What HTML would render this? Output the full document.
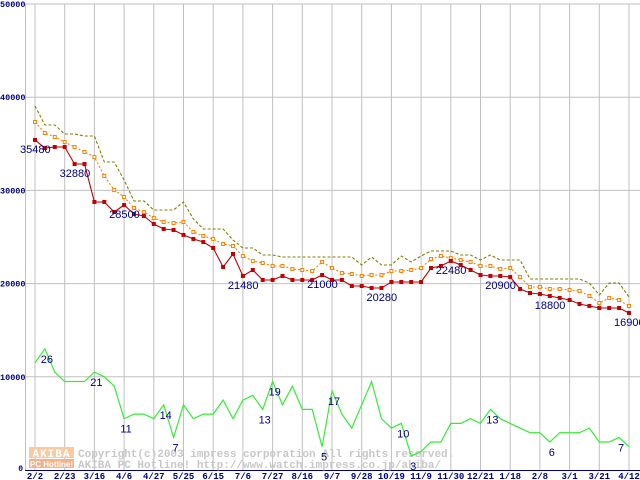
<!DOCTYPE html>
<html><head><meta charset="utf-8"><style>
html,body{margin:0;padding:0;background:#fff;}
svg{display:block;}
</style></head><body>
<svg id="chart" width="640" height="480" viewBox="0 0 640 480" xmlns="http://www.w3.org/2000/svg" font-family="Liberation Sans, sans-serif">
<g id="grid"></g>
<g id="watermark">
 <rect x="29" y="447" width="45" height="11" fill="#f9c9a0"/>
 <text x="51.5" y="457" font-size="11" font-weight="bold" fill="#fff" text-anchor="middle" font-family="Liberation Mono, monospace" letter-spacing="1">AKIBA</text>
 <rect x="29" y="459" width="45" height="9" fill="#f9b088"/>
 <text x="51.5" y="467" font-size="8" font-weight="bold" fill="#fff" text-anchor="middle">PC Hotline!</text>
 <text x="78" y="457" font-size="11" font-weight="bold" fill="#c8c8c8" font-family="Liberation Mono, monospace">Copyright(c)2003 impress corporation All rights reserved.</text>
 <text x="78" y="468" font-size="11" font-weight="bold" fill="#c8c8c8" font-family="Liberation Mono, monospace">AKIBA PC Hotline!  http://www.watch.impress.co.jp/akiba/</text>
</g>
<g id="series"></g>
<g id="labels" font-size="11" fill="#000080"></g>
</svg>
<script>
const categories = ["2/2","","","2/23","","","3/16","","","4/6","","","4/27","","","5/25","","","6/15","","","7/6","","","7/27","","","8/16","","","9/7","","","9/28","","","10/19","","","11/9","","","11/30","","","12/21","","","1/18","","","2/8","","","3/1","","","3/21","","","4/12"];
const minPrice = [35410,34550,34660,34660,32830,32830,28760,28760,27680,28430,27470,27250,26400,25860,25750,25220,24790,24460,23820,21780,23180,20820,21460,20390,20390,20820,20390,20390,20390,20920,20390,20390,19740,19740,19530,19530,20170,20170,20170,20170,21670,21890,22430,22000,21460,20920,20820,20820,20710,19420,18990,18880,18670,18460,18240,17810,17600,17380,17380,17380,16850];
const avgPrice = [37340,36160,35730,35190,34660,34120,33580,31550,30040,29290,28110,27680,27040,26610,26500,26610,25540,25110,24790,24250,24030,22960,22430,22210,21890,21890,21570,21460,21350,22320,21670,21140,21030,20820,20920,20920,21350,21350,21460,21670,22640,22960,22750,22530,22320,21890,21890,21570,21670,20710,19640,19640,19420,19420,19310,19210,18670,17920,18460,18240,17600];
const maxPrice = [39060,37020,37020,36050,36050,35840,35840,33050,33050,31120,28860,28860,27900,27900,27900,28760,26930,25860,25860,25860,24680,23820,23820,23070,23070,22850,22850,22850,22850,22850,22850,22850,22850,22000,22850,22000,22000,22960,22320,22960,23500,23500,23500,23070,23070,22530,23070,22530,22530,22530,20490,20490,20490,20490,20490,20490,20060,18780,20060,20060,18560];
const shopCount = [23,26,21,19,19,19,21,20,18,11,12,12,11,14,7,14,11,12,12,15,11,15,16,13,19,14,18,13,13,5,17,12,9,14,19,11,9,10,3,4,6,6,10,10,11,10,13,11,10,9,8,8,6,8,8,8,9,6,6,7,5];
const yTicks = [0,10000,20000,30000,40000,50000];
const priceLabels = [[0,"35480"],[4,"32880"],[9,"28500"],[21,"21480"],[29,"21000"],[35,"20280"],[42,"22480"],[47,"20900"],[52,"18800"],[60,"16900"]];
const countLabels = [1,6,9,14,13,23,24,29,30,37,38,46,52,59];

const NS="http://www.w3.org/2000/svg";
const X0=35, DX=9.9, Y0=470, KY=0.00932, KC=4.66;
const xs=i=>X0+i*DX;
const yv=v=>Y0-v*KY;
const yc=c=>Y0-c*KC;
function mk(tag,attrs,parent){const e=document.createElementNS(NS,tag);for(const k in attrs)e.setAttribute(k,attrs[k]);parent.appendChild(e);return e;}
const grid=document.getElementById('grid');
yTicks.forEach(t=>{
  const y=yv(t);
  if(t>0){const l=mk('line',{x1:25,x2:640,y1:y,y2:y,stroke:'#c0c0c0','stroke-width':1},grid);
  
  }
  const tx=mk('text',{x:t===0?23:0,y:t===0?y+1:y+3,'font-size':t===0?8:8.5,'font-weight':'bold',fill:'#000080','font-family':'Liberation Mono, monospace','text-anchor':t===0?'end':'start'},grid);
  tx.textContent=String(t);
  
  
});
const ax=mk('line',{x1:25.5,x2:25.5,y1:4,y2:470,stroke:'#c0c0c0'},grid);


categories.forEach((c,i)=>{
  if(c==="")return;
  const x=xs(i);
  const l=mk('line',{x1:x,x2:x,y1:4,y2:470,stroke:'#c0c0c0'},grid);
  
  
  const t=mk('text',{x:x,y:479,'font-size':9,'font-family':'Liberation Mono, monospace','font-weight':'bold',fill:'#000080','text-anchor':'middle'},grid);
  t.textContent=c;
  
  
});
const xa=mk('line',{x1:25,x2:640,y1:470.5,y2:470.5,stroke:'#000080'},grid);



const S=document.getElementById('series');
function pts(arr,f){return arr.map((v,i)=>xs(i).toFixed(1)+','+f(v).toFixed(1)).join(' ');}
const gl=mk('polyline',{points:pts(shopCount,yc),fill:'none',stroke:'#33ee33','stroke-width':1.2},S);


const ml=mk('polyline',{points:pts(maxPrice,yv),fill:'none',stroke:'#808000','stroke-width':1.1,'stroke-dasharray':'3,2'},S);


const al=mk('polyline',{points:pts(avgPrice,yv),fill:'none',stroke:'#ff8000','stroke-width':1.1,'stroke-dasharray':'2,2'},S);


avgPrice.forEach((v,i)=>{
  const r=mk('rect',{x:xs(i)-1.5,y:yv(v)-1.5,width:3,height:3,fill:'#fff',stroke:'#ff8000','stroke-width':1},S);
  
  
});
const rl=mk('polyline',{points:pts(minPrice,yv),fill:'none',stroke:'#c00000','stroke-width':1.1},S);


minPrice.forEach((v,i)=>{
  const r=mk('rect',{x:xs(i)-2,y:yv(v)-2,width:4,height:4,fill:'#c00000'},S);
  
  
});
const L=document.getElementById('labels');
priceLabels.forEach(([i,s])=>{
  const t=mk('text',{x:xs(i)-15,y:yv(minPrice[i])+13,'font-size':11},L);
  t.textContent=s;
  
  
});
countLabels.forEach(i=>{
  const t=mk('text',{x:xs(i)+2,y:yc(shopCount[i])+14,'font-size':11,'text-anchor':'middle'},L);
  t.textContent=String(shopCount[i]);
  
  
});
</script>
</body></html>
